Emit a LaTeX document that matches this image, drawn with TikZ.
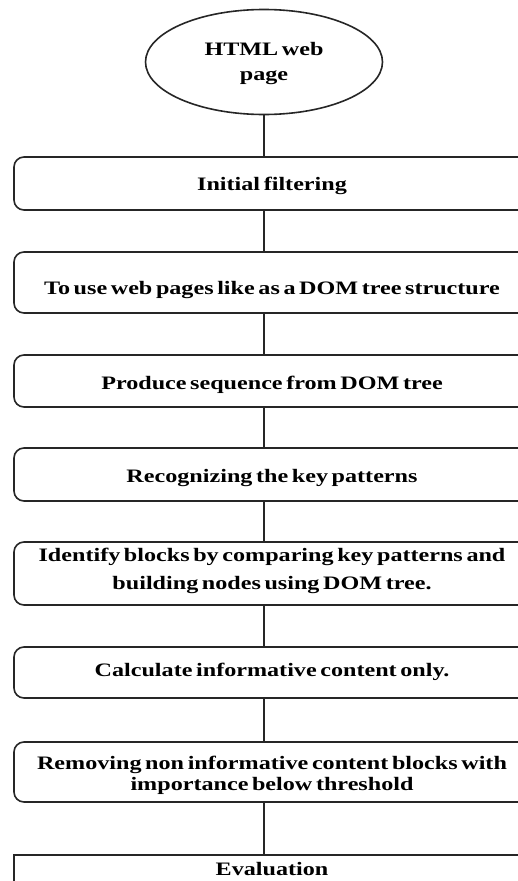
\documentclass[tikz,border=0pt]{standalone}
\usepackage{fontspec}
\setmainfont{Liberation Serif}[WordSpace=0.6]
\usepackage{graphicx}
\usetikzlibrary{shapes.geometric}
\newcommand{\wtxt}[2][26]{\scalebox{1.27}[1]{\fontsize{19}{#1}\selectfont\bfseries\begin{tabular}[t]{@{}c@{}}#2\end{tabular}}}
\begin{document}
\begin{tikzpicture}[x=1pt,y=-1pt,
  flow/.style={draw=black!85, line width=1.6pt},
  stepbox/.style={flow, rounded corners=10pt, rectangle, minimum width=516pt, inner sep=0pt, text depth=0pt},
  link/.style={draw=black!85, line width=1.5pt}]
\useasboundingbox (0,0) rectangle (518,881);
\clip (0,0) rectangle (518,881);
\node[flow, ellipse, minimum width=237pt, minimum height=105pt, inner sep=0pt, text height=0pt, text depth=14pt] (e) at (264,62) {\wtxt[25]{HTML web\\page}};
\node[stepbox, minimum height=53pt, text height=14.4pt] (b1) at (272,183.5) {\wtxt{Initial filtering}};
\node[stepbox, minimum height=61pt, text height=24.4pt] (b2) at (272,282.5) {\wtxt{To use web pages like as a DOM tree structure}};
\node[stepbox, minimum height=52pt, text height=16pt] (b3) at (272,381) {\wtxt{Produce sequence from DOM tree}};
\node[stepbox, minimum height=53pt, text height=16.4pt] (b4) at (272,474.5) {\wtxt{Recognizing the key patterns}};
\node[stepbox, minimum height=63pt, text height=0pt, text depth=23.6pt] (b5) at (272,573.5) {\wtxt[27.6]{Identify blocks by comparing key patterns and\\building nodes using DOM tree.}};
\node[stepbox, minimum height=51pt, text height=7pt] (b6) at (272,672.5) {\wtxt{Calculate informative content only.}};
\node[stepbox, minimum height=60pt, text height=0pt, text depth=5.4pt] (b7) at (272,772) {\wtxt[21.5]{Removing non informative content blocks with\\importance below threshold}};
\node[stepbox, sharp corners, minimum height=45pt, text height=0pt, text depth=5pt] (b8) at (272,877.5) {\wtxt{Evaluation}};
\draw[link] (e.south) -- (e.south |- b1.north);
\foreach \a/\b in {b1/b2,b2/b3,b3/b4,b4/b5,b5/b6,b6/b7,b7/b8}
  \draw[link] (\a.south -| e.south) -- (\b.north -| e.south);
\end{tikzpicture}
\end{document}
